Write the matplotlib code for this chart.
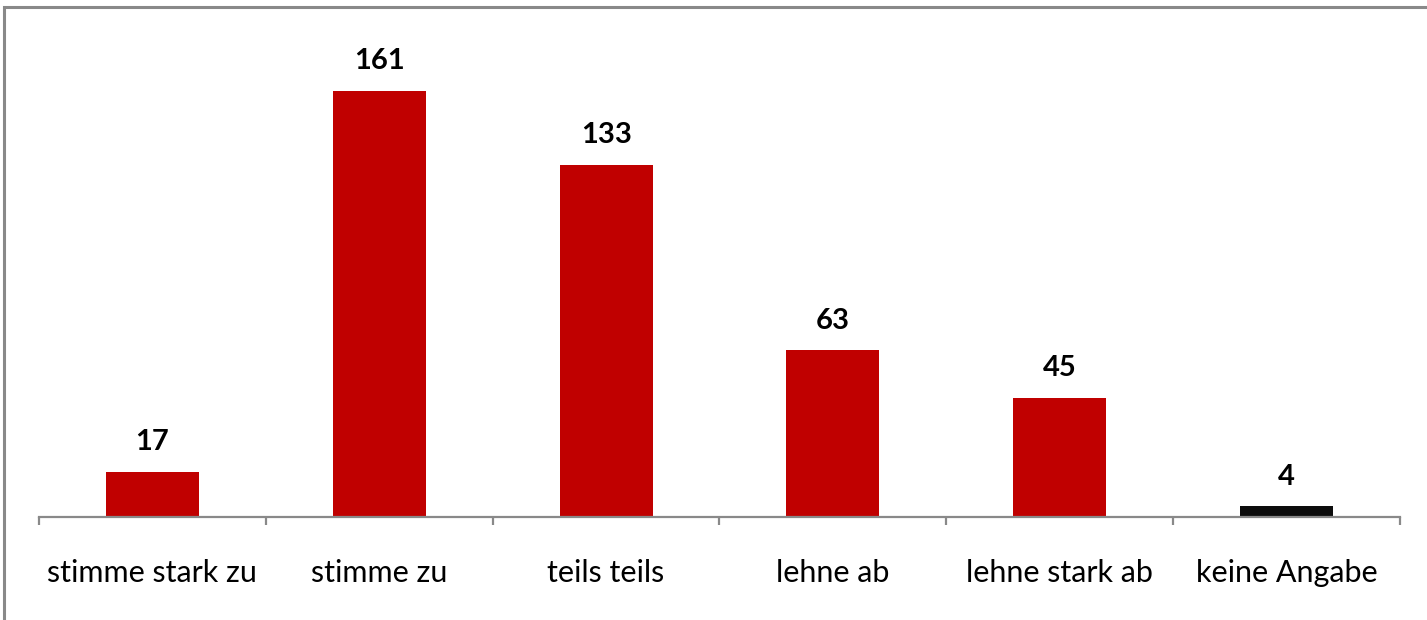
import matplotlib
matplotlib.use("Agg")
import matplotlib.pyplot as plt
from matplotlib.patches import Rectangle
import numpy as np

# Daten
categories = ['stimme stark zu', 'stimme zu', 'teils teils', 'lehne ab', 'lehne stark ab', 'keine Angabe']
values = [17, 161, 133, 63, 45, 4]
colors = ['#C00000', '#C00000', '#C00000', '#C00000', '#C00000', '#0D0D0D']

plt.rcParams['font.family'] = ['Lato', 'DejaVu Sans']

W, H = 1427, 620
fig = plt.figure(figsize=(W / 100, H / 100), dpi=100)

# Rahmen (nur oben und links sichtbar)
fig.patches.append(Rectangle((4 / W, -0.1), 1.2, (H - 7) / H + 0.1, transform=fig.transFigure,
                             fill=False, edgecolor='#898989', linewidth=2.2))

ax = fig.add_axes([39 / W, (H - 517) / H, (1400 - 39) / W, 510 / H])
x = np.arange(len(categories))
ax.bar(x, values, width=0.41, color=colors)

for xi, v in zip(x, values):
    ax.annotate(str(v), (xi, v), xytext=(0, 12), textcoords='offset points',
                ha='center', va='bottom', fontsize=21, fontweight='bold')

ax.set_xlim(-0.5, len(categories) - 0.5)
ax.set_ylim(0, 510 / 2.646)
ax.set_yticks([])
for s in ['top', 'right', 'left']:
    ax.spines[s].set_visible(False)
ax.spines['bottom'].set_color('#898989')
ax.spines['bottom'].set_linewidth(1.6)

ax.set_xticks(x)
ax.set_xticklabels(categories, fontsize=22)
ax.tick_params(axis='x', which='major', length=0, pad=30)
ax.set_xticks(np.arange(len(categories) + 1) - 0.5, minor=True)
ax.tick_params(axis='x', which='minor', length=6, width=1.6, color='#898989', direction='out')

fig.savefig('out.png', dpi=100)
